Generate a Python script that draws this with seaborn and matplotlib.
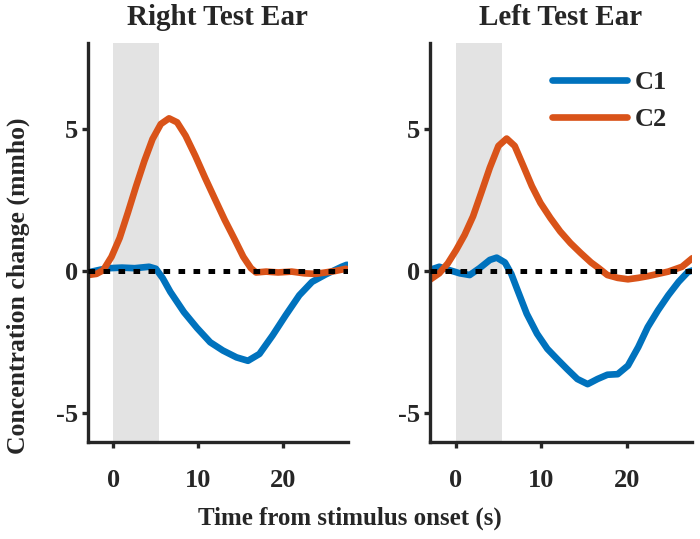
import numpy as np
import pandas as pd
import matplotlib
matplotlib.use("Agg")
import matplotlib.pyplot as plt
import seaborn as sns

# values (time in s, concentration change in mmho)
right_c1_time = [-3.0, -1.5, -0.5, 1.0, 2.5, 4.2, 5.0, 5.8, 6.7, 8.3, 9.85, 11.4, 12.9, 14.5, 15.85, 17.2,
                 18.75, 20.3, 21.9, 23.4, 25.0, 26.9, 27.5]
right_c1_vals = [-0.05, 0.05, 0.1, 0.12, 0.1, 0.15, 0.08, -0.25, -0.73, -1.44, -2.0, -2.5, -2.79, -3.03, -3.15, -2.91,
                 -2.26, -1.55, -0.85, -0.38, -0.12, 0.15, 0.22]
right_c2_time = [-3.0, -2.0, -1.2, -0.23, 0.73, 1.7, 2.67, 3.64, 4.6, 5.58, 6.55, 7.5, 8.5, 9.65, 10.8, 12.0,
                 13.1, 14.3, 15.3, 16.2, 16.8, 18.0, 19.4, 21.0, 22.5, 23.8, 26.1, 27.4]
right_c2_vals = [-0.14, -0.1, 0.03, 0.5, 1.16, 2.05, 2.98, 3.86, 4.63, 5.16, 5.36, 5.22, 4.75, 4.04, 3.27, 2.5,
                 1.8, 1.1, 0.5, 0.1, -0.05, -0.02, -0.05, -0.02, -0.08, -0.1, 0.0, 0.08]

left_c1_time = [-3.06, -1.9, -0.7, 0.5, 1.65, 2.8, 4.0, 4.8, 5.76, 6.5, 7.2, 8.3, 9.5, 10.7, 11.85, 13.0, 14.2,
                15.4, 16.55, 17.7, 18.9, 20.1, 21.3, 22.4, 23.6, 24.8, 26.0, 27.1, 27.6]
left_c1_vals = [0.03, 0.15, 0.03, -0.08, -0.14, 0.1, 0.39, 0.47, 0.3, -0.1, -0.65, -1.5, -2.2, -2.73, -3.09,
                -3.44, -3.79, -3.97, -3.79, -3.64, -3.62, -3.32, -2.67, -1.97, -1.38, -0.85, -0.38, -0.03, 0.02]
left_c2_time = [-3.06, -1.9, -0.9, 0.08, 1.06, 2.04, 3.0, 4.0, 5.0, 5.96, 6.9, 7.9, 8.9, 9.9, 11.06, 12.2, 13.4,
                14.6, 15.8, 16.7, 17.7, 18.9, 20.1, 21.3, 22.4, 23.6, 24.8, 26.4, 27.6]
left_c2_vals = [-0.32, -0.08, 0.27, 0.74, 1.27, 1.92, 2.75, 3.63, 4.39, 4.65, 4.39, 3.69, 2.98, 2.39, 1.86, 1.39,
                0.98, 0.63, 0.3, 0.1, -0.14, -0.24, -0.29, -0.24, -0.18, -0.1, -0.02, 0.15, 0.45]

stim_window = (0, 5.4)
panel_titles = ["Right Test Ear", "Left Test Ear"]
colors = {"C1": "#0072BD", "C2": "#D95319"}


def make_df(t1, v1, t2, v2):
    d1 = pd.DataFrame({"time": t1, "value": v1, "cond": "C1"})
    d2 = pd.DataFrame({"time": t2, "value": v2, "cond": "C2"})
    return pd.concat([d1, d2], ignore_index=True)


sns.set_style("ticks")
plt.rcParams["font.family"] = ["Liberation Serif", "DejaVu Serif"]
plt.rcParams["font.weight"] = "bold"
plt.rcParams["axes.unicode_minus"] = False

fig = plt.figure(figsize=(7, 5.39), dpi=100)
ax_r = fig.add_axes([0.1257, 0.180, 0.371, 0.740])
ax_l = fig.add_axes([0.614, 0.180, 0.375, 0.740])

data = [make_df(right_c1_time, right_c1_vals, right_c2_time, right_c2_vals),
        make_df(left_c1_time, left_c1_vals, left_c2_time, left_c2_vals)]

for ax, df, title in zip([ax_r, ax_l], data, panel_titles):
    ax.axvspan(stim_window[0], stim_window[1], color="#e3e3e3", lw=0, zorder=0)
    sns.lineplot(data=df, x="time", y="value", hue="cond", palette=colors,
                 linewidth=4.8, ax=ax, legend=(ax is ax_l), zorder=2)
    ax.axhline(0, color="black", lw=3.6, ls=(0, (1.33, 1.67)), zorder=3)
    ax.set_xlim(-3, 27.6)
    ax.set_ylim(-6, 8)
    ax.set_xticks([0, 10, 20])
    ax.set_yticks([-5, 0, 5])
    ax.set_xlabel("")
    ax.set_ylabel("")
    ax.set_title(title, fontsize=21, fontweight="bold", y=1.063, pad=0, va="center")
    for s in ["left", "bottom"]:
        ax.spines[s].set_linewidth(2.4)
        ax.spines[s].set_color("#262626")
    sns.despine(ax=ax)
    ax.tick_params(width=2.4, length=4.3, color="#262626", labelsize=19)
    ax.tick_params(axis="x", pad=15)
    ax.tick_params(axis="y", pad=2.5)

leg = ax_l.legend(loc="upper right", bbox_to_anchor=(0.995, 0.99), frameon=False,
                  fontsize=19, handlelength=2.85, labelspacing=0.5, handletextpad=0.3)
for line in leg.get_lines():
    line.set_linewidth(4.8)

fig.text(0.026, 0.47, "Concentration change (mmho)", rotation=90, ha="center",
         va="center", fontsize=18.5, fontweight="bold")
fig.text(0.5, 0.038, "Time from stimulus onset (s)", ha="center", va="center",
         fontsize=18, fontweight="bold")

fig.savefig("out.png", dpi=100)
